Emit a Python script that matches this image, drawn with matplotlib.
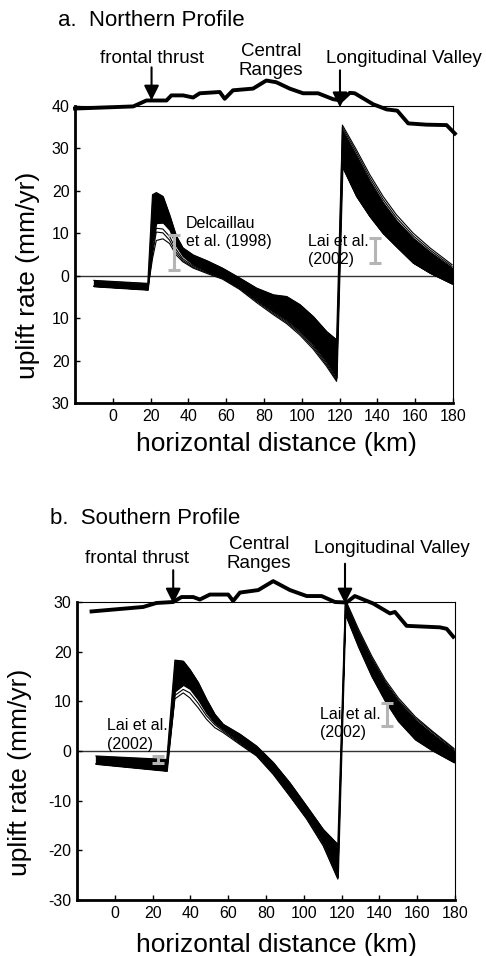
import matplotlib
matplotlib.use('Agg')
import matplotlib.pyplot as plt

plt.rcParams['font.family'] = ['Liberation Sans', 'DejaVu Sans']

# ---------------- data ----------------
# a. Northern profile - model ensemble (envelopes + a few separate members)
xa = [-10, 18.5, 21, 23, 26.5, 30, 33.5, 37, 42.5, 50, 58, 67, 76, 85, 92, 99, 106, 113, 118.4,
      121.5, 129, 136, 143, 150, 159, 168, 179.5]
a_top = [-1.1, -1.8, 19.1, 19.6, 18.7, 14.3, 9.4, 6.6, 4.9, 3.5, 1.8, -0.5, -2.9, -4.5, -4.9, -6.8, -9.6, -13.1, -15.1,
         35.5, 29.6, 23.8, 18.7, 14.4, 10.0, 6.5, 2.6]
a_hi = [-1.1, -1.8, 19.1, 19.6, 18.7, 14.3, 9.4, 6.6, 4.9, 3.5, 1.8, -0.5, -2.9, -4.5, -4.9, -6.8, -9.6, -13.1, -15.1,
        34.4, 28.3, 22.4, 17.3, 13.1, 8.9, 5.6, 1.9]
a_lo = [-2.5, -3.3, 8.0, 12.4, 12.5, 10.8, 7.0, 4.6, 2.6, 1.0, -0.4, -2.7, -5.6, -8.4, -10.4, -13.0, -16.2, -20.2, -24.0,
        25.7, 18.7, 14.0, 10.0, 6.9, 3.0, 0.6, -1.9]
a_mid = [-2.5, -3.3, 6.0, 11.2, 11.0, 9.3, 6.2, 4.0, 2.3, 0.9, -0.5, -2.8, -5.8, -8.6, -10.7, -13.3, -16.5, -20.5, -24.3,
         35.0, 29.0, 23.1, 18.0, 13.7, 9.4, 6.0, 2.2]
a_mid2 = [-2.5, -3.3, 5.0, 10.3, 10.1, 8.4, 5.5, 3.6, 2.0, 0.7, -0.6, -3.0, -6.0, -8.9, -11.0, -13.6, -16.9, -20.9, -24.6,
          25.7, 18.7, 14.0, 10.0, 6.9, 3.0, 0.6, -1.9]
a_bot = [-2.5, -3.3, 4.0, 8.3, 8.7, 7.6, 4.9, 3.3, 1.8, 0.5, -0.8, -3.2, -6.3, -9.2, -11.3, -14.0, -17.3, -21.3, -24.9,
         25.7, 18.7, 14.0, 10.0, 6.9, 3.0, 0.6, -1.9]

# a. topography (drawn above the box)
topo_a_x = [-20, 10.8, 17.8, 28.4, 31, 37.2, 42.5, 46, 56.6, 59.2, 63.6, 74.2, 81.2, 86.5, 93.6, 100.7, 108.6,
            116.6, 121, 125.4, 128, 137.8, 144.9, 150.5, 156.3, 166, 176.6, 181]
topo_a_y = [39.4, 39.9, 41.3, 41.3, 42.5, 42.5, 42.0, 43.0, 43.3, 41.7, 43.7, 44.1, 46.0, 45.6, 44.1, 43.0, 43.0,
            41.6, 41.3, 43.1, 43.0, 40.4, 39.2, 38.9, 35.9, 35.6, 35.5, 33.5]

# b. Southern profile
xb = [-10, 27.5, 31.8, 36.2, 39.7, 44.1, 48.5, 52.9, 57.3, 66.2, 75, 83.8, 92.6, 101.5, 110.3, 118,
      122, 129, 136, 143, 150, 159, 168, 179.5]
b_top = [-1.0, -1.7, 18.3, 18.1, 16.4, 13.8, 10.4, 7.4, 5.4, 3.4, 1.0, -2.3, -6.4, -11.1, -15.8, -18.8,
         30.5, 24.5, 19.1, 14.4, 10.7, 6.9, 4.0, 0.5]
b_hi = [-1.0, -1.7, 18.3, 18.1, 16.4, 13.8, 10.4, 7.4, 5.4, 3.4, 1.0, -2.3, -6.4, -11.1, -15.8, -18.8,
        29.8, 23.7, 18.3, 13.7, 10.0, 6.3, 3.5, 0.1]
b_lo = [-2.6, -4.0, 12.0, 13.3, 12.5, 10.3, 7.6, 5.6, 4.3, 1.7, -0.7, -4.4, -8.8, -13.4, -18.7, -25.4,
        27.5, 20.9, 15.0, 10.1, 6.0, 2.3, 0.1, -2.3]
b_mid = [-2.6, -4.0, 11.2, 12.4, 11.7, 9.6, 7.1, 5.3, 4.0, 1.5, -0.9, -4.6, -9.0, -13.6, -19.0, -25.6,
         30.2, 24.1, 18.7, 14.0, 10.3, 6.6, 3.8, 0.3]
b_bot = [-2.6, -4.0, 10.5, 11.7, 10.7, 8.7, 6.4, 4.7, 3.7, 1.3, -1.0, -4.7, -9.1, -13.7, -19.1, -25.8,
         27.5, 20.9, 15.0, 10.1, 6.0, 2.3, 0.1, -2.3]

topo_b_x = [-12.3, 15, 22, 30.9, 35.3, 41.5, 45, 50.3, 60, 62.6, 66.2, 75.9, 83.8, 92.7, 101.5, 109.4,
            116.5, 122.6, 127, 136.7, 145.6, 148.2, 154.4, 172, 175.6, 179.1]
topo_b_y = [28.1, 29.0, 29.8, 30.0, 31.0, 31.0, 30.5, 31.5, 31.5, 30.2, 31.9, 32.4, 34.2, 32.4, 31.2, 31.2,
            30.0, 29.9, 31.2, 29.7, 27.7, 28.0, 25.2, 24.9, 24.6, 23.0]

# observed rates (x, low, high)
obs_a = [(32.3, 1.4, 9.5), (138.7, 3.1, 8.9)]
obs_b = [(22.8, -2.4, -1.0), (143.8, 5.0, 9.7)]

xticks = [0, 20, 40, 60, 80, 100, 120, 140, 160, 180]
yticks_a = [-30, -20, -10, 0, 10, 20, 30, 40]
yticklabels_a = ['30', '20', '10', '0', '10', '20', '30', '40']
yticks_b = [-30, -20, -10, 0, 10, 20, 30]
yticklabels_b = ['-30', '-20', '-10', '0', '10', '20', '30']

fig = plt.figure(figsize=(4.86, 9.56), dpi=100)
ax_a = fig.add_axes([75 / 486, 1 - 403 / 956, 378 / 486, 297 / 956])
ax_b = fig.add_axes([77 / 486, 1 - 900 / 956, 378 / 486, 298 / 956])


def draw_panel(ax, x, top, hi, lo, mid, bot, tx, ty, obs, ylim, yticks, yticklabels):
    # ensemble of model curves
    ax.fill_between(x, lo, hi, color='k', lw=0.8, zorder=2)
    for curve in (top, mid, bot):
        ax.plot(x, curve, color='k', lw=0.8, zorder=3)
    ax.axhline(0, color='#333333', lw=1.0, zorder=1)
    # topography, sits on top of the box
    ax.plot(tx, ty, color='k', lw=2.8, clip_on=False, zorder=4, solid_joinstyle='round')
    for ox, lo_v, hi_v in obs:
        c = (lo_v + hi_v) / 2.0
        ax.errorbar(ox, c, yerr=(hi_v - lo_v) / 2.0, fmt='none', ecolor='#b5b5b5',
                    elinewidth=2.2, capsize=4.5, capthick=2.2, zorder=5)
    ax.set_xlim(-20, 180)
    ax.set_ylim(*ylim)
    ax.set_xticks(xticks)
    ax.set_yticks(yticks)
    ax.set_yticklabels(yticklabels)
    ax.tick_params(direction='in', length=3.5, width=1, labelsize=11.5, pad=4)
    for s in ('left', 'bottom'):
        ax.spines[s].set_linewidth(2.0)
    for s in ('top', 'right'):
        ax.spines[s].set_linewidth(0.8)


def arrow(ax, x, y0, y1):
    ax.annotate('', xy=(x, y1), xytext=(x, y0), annotation_clip=False,
                arrowprops=dict(arrowstyle='-|>,head_length=0.6,head_width=0.3', color='k',
                                lw=1.5, mutation_scale=15, shrinkA=0, shrinkB=0), zorder=6)


draw_panel(ax_a, xa, a_top, a_hi, a_lo, a_mid, a_bot, topo_a_x, topo_a_y, obs_a,
           (-30, 40), yticks_a, yticklabels_a)
ax_a.plot(xa, a_mid2, color='k', lw=0.8, zorder=3)
draw_panel(ax_b, xb, b_top, b_hi, b_lo, b_mid, b_bot, topo_b_x, topo_b_y, obs_b,
           (-30, 30), yticks_b, yticklabels_b)

# labels on top of the profiles
lab = dict(fontsize=13.5, ha='center', va='center', clip_on=False)
ax_a.text(20.5, 51.2, 'frontal thrust', **lab)
ax_a.text(83.7, 50.5, 'Central\nRanges', linespacing=1.15, **lab)
ax_a.text(153.8, 51.2, 'Longitudinal Valley', **lab)
arrow(ax_a, 20.5, 49.1, 41.3)
arrow(ax_a, 120.2, 48.4, 39.7)

ax_b.text(11.5, 38.7, 'frontal thrust', **lab)
ax_b.text(76.4, 39.7, 'Central\nRanges', linespacing=1.15, **lab)
ax_b.text(146.8, 40.7, 'Longitudinal Valley', **lab)
arrow(ax_b, 30.9, 36.4, 29.7)
arrow(ax_b, 121.8, 37.7, 29.7)

# data source notes
ref = dict(fontsize=11.5, ha='left', va='center', linespacing=1.3, zorder=1)
ax_a.text(38.6, 10.2, 'Delcaillau\net al. (1998)', **ref)
ax_a.text(103.4, 5.9, 'Lai et al.\n(2002)', **ref)
ax_b.text(-4.2, 3.2, 'Lai et al.\n(2002)', **ref)
ax_b.text(108.5, 5.5, 'Lai et al.\n(2002)', **ref)

# titles and axis labels
fig.text(58 / 486, 1 - 20 / 956, 'a.  Northern Profile', fontsize=16, ha='left', va='center')
fig.text(50 / 486, 1 - 519 / 956, 'b.  Southern Profile', fontsize=16, ha='left', va='center')
fig.text(276 / 486, 1 - 444 / 956, 'horizontal distance (km)', fontsize=19, ha='center', va='center')
fig.text(276 / 486, 1 - 945 / 956, 'horizontal distance (km)', fontsize=19, ha='center', va='center')
fig.text(27.5 / 486, 1 - 275 / 956, 'uplift rate (mm/yr)', fontsize=19, rotation=90, ha='center', va='center')
fig.text(20 / 486, 1 - 772 / 956, 'uplift rate (mm/yr)', fontsize=19, rotation=90, ha='center', va='center')

fig.savefig('out.png', dpi=100)
